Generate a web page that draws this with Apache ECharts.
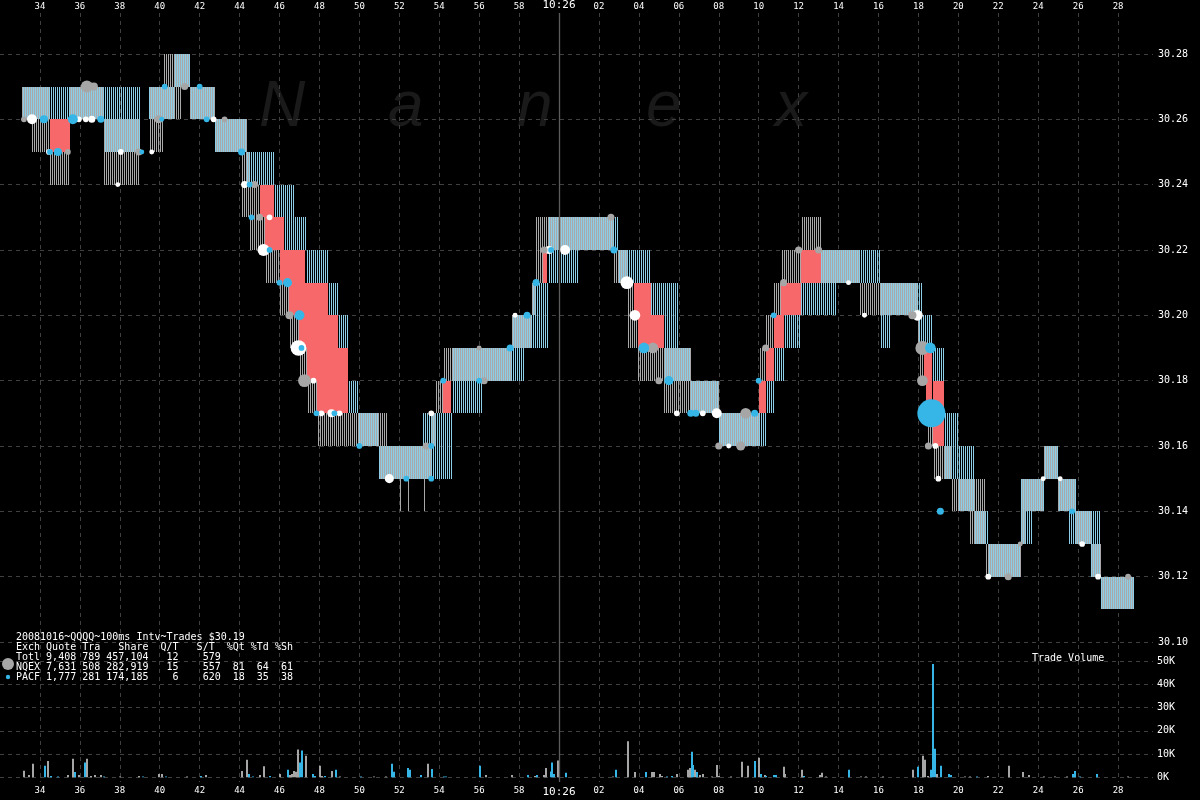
<!DOCTYPE html>
<html><head><meta charset="utf-8">
<script src="https://cdn.jsdelivr.net/npm/echarts@6/dist/echarts.min.js"></script>
<style>html,body{margin:0;background:#000;}#c{width:1200px;height:800px;}</style>
</head><body><div id="c"></div>
<script>
// Time values are seconds after 10:25:00
// Quote segments per exchange: [tStart, tEnd, bid, ask]
const nqexQuotes = [
[33.1,33.6,30.26,30.27],[33.6,34.5,30.25,30.27],[34.5,35.5,30.24,30.25],[35.5,37.2,30.26,30.27],
[37.2,39.0,30.24,30.26],[39.45,40.2,30.25,30.27],[40.2,41.1,30.26,30.28],[41.1,41.5,30.27,30.28],
[41.5,42.75,30.26,30.27],[42.75,44.1,30.25,30.26],[44.1,44.35,30.23,30.26],[44.35,44.5,30.23,30.25],
[44.5,45.0,30.22,30.24],[45.0,45.25,30.22,30.23],[45.25,46.0,30.21,30.22],[46.0,46.5,30.20,30.21],
[46.5,47.0,30.19,30.20],[47.0,47.4,30.18,30.19],[47.4,47.9,30.17,30.18],[47.9,50.95,30.16,30.17],
[50.95,51.4,30.15,30.17],[51.4,53.6,30.15,30.16],[52.0,52.05,30.14,30.16],[52.4,52.45,30.14,30.16],
[52.75,52.8,30.14,30.16],[53.2,53.25,30.14,30.16],[53.6,53.8,30.16,30.17],[53.8,54.2,30.17,30.18],
[54.2,57.6,30.18,30.19],[57.6,58.6,30.19,30.20],[58.6,58.75,30.20,30.21],[58.75,59.2,30.21,30.23],
[59.2,62.7,30.22,30.23],[62.7,63.45,30.21,30.22],[63.45,63.75,30.19,30.21],[63.75,63.95,30.19,30.20],
[63.95,65.25,30.18,30.19],[65.25,66.6,30.17,30.19],[66.6,68.0,30.17,30.18],[68.0,70.0,30.16,30.17],
[69.1,69.15,30.15,30.17],[70.0,70.35,30.18,30.19],[70.35,70.75,30.19,30.20],[70.75,71.1,30.20,30.21],
[71.1,72.1,30.21,30.22],[72.1,73.1,30.22,30.23],[73.1,75.0,30.21,30.22],[75.0,77.9,30.20,30.21],
[75.1,75.15,30.19,30.21],[75.4,75.45,30.19,30.21],[77.9,78.0,30.19,30.20],
[78.0,78.3,30.18,30.19],[78.3,78.4,30.17,30.18],[78.4,78.75,30.16,30.17],[78.75,79.6,30.15,30.16],
[79.6,80.5,30.14,30.15],[80.5,81.3,30.13,30.15],[81.3,83.1,30.12,30.13],[83.1,83.35,30.13,30.15],
[83.35,84.25,30.14,30.15],[84.25,84.95,30.15,30.16],[84.95,85.85,30.14,30.15],[85.85,86.6,30.13,30.14],
[86.6,87.1,30.12,30.13],[87.1,88.75,30.11,30.12]
];
const pacfQuotes = [
[33.1,37.2,30.26,30.27],[37.2,39.0,30.25,30.27],[39.45,40.7,30.26,30.27],[40.7,41.5,30.27,30.28],
[41.5,42.75,30.26,30.27],[42.75,44.35,30.25,30.26],[44.35,45.7,30.24,30.25],[45.7,46.2,30.23,30.24],
[46.2,46.75,30.22,30.24],[46.75,47.3,30.22,30.23],[47.3,48.45,30.21,30.22],[48.45,48.95,30.20,30.21],
[48.95,49.45,30.19,30.20],[49.45,49.95,30.17,30.18],[49.95,50.95,30.16,30.17],[50.95,53.1,30.15,30.16],
[53.1,54.6,30.15,30.17],[54.6,56.1,30.17,30.19],[56.1,57.6,30.18,30.19],[57.6,58.2,30.18,30.20],
[58.2,58.6,30.19,30.20],[58.6,59.4,30.19,30.21],[59.4,60.95,30.21,30.23],[60.95,63.0,30.22,30.23],
[63.0,64.6,30.21,30.22],[64.6,65.25,30.20,30.21],[65.25,66.0,30.18,30.21],[66.0,66.6,30.18,30.19],
[66.6,67.95,30.17,30.18],[67.95,70.35,30.16,30.17],[70.35,70.75,30.17,30.18],[70.75,71.25,30.18,30.19],
[71.25,72.1,30.19,30.20],[72.1,73.1,30.20,30.21],[73.1,73.9,30.20,30.22],[73.9,76.1,30.21,30.22],
[76.1,76.6,30.19,30.21],[76.6,77.95,30.20,30.21],
[77.95,78.2,30.19,30.21],[78.2,78.7,30.19,30.20],[78.7,79.3,30.18,30.19],[79.3,80.0,30.15,30.17],
[80.0,80.8,30.14,30.16],[80.8,81.5,30.13,30.14],[81.5,83.1,30.12,30.13],[83.1,83.7,30.13,30.15],
[83.7,84.25,30.14,30.15],[84.25,84.95,30.15,30.16],[84.95,85.5,30.14,30.15],[85.5,85.85,30.13,30.15],
[85.85,86.6,30.13,30.14],[86.6,87.1,30.12,30.14],[87.1,88.75,30.11,30.12]
];
// Trades: [time, price, shares]
const nqexTrades = [
[33.2,30.26,2000],[35.4,30.25,2000],[36.35,30.27,8800],[36.7,30.27,4000],[38.95,30.25,3000],[39.95,30.26,4000],
[41.25,30.27,3000],[43.25,30.26,2000],[44.75,30.24,3000],[45.0,30.23,3000],[46.5,30.20,4000],[47.25,30.18,10000],
[53.35,30.16,3000],[56.0,30.19,1500],[56.25,30.18,3000],[59.25,30.22,3000],[62.6,30.23,3000],[64.7,30.19,7000],
[65.0,30.18,3000],[68.0,30.16,3000],[69.1,30.16,5000],[69.35,30.17,7000],[70.35,30.19,3000],[71.25,30.21,3000],
[72.0,30.22,3000],[73.0,30.22,3000],[77.7,30.20,4000],[78.2,30.19,12000],[78.2,30.18,7000],[78.5,30.16,3000],
[82.5,30.12,3000],[83.1,30.13,1500],[88.5,30.12,2000]
];
const pacfTrades = [
[34.2,30.26,4000],[34.5,30.25,2000],[34.9,30.25,4000],[35.65,30.26,6000],[37.05,30.26,3000],[39.1,30.25,1500],
[40.1,30.26,1500],[40.25,30.27,2000],[42.0,30.27,2000],[42.35,30.26,2000],[44.1,30.25,3000],[44.5,30.24,2000],
[44.6,30.23,2000],[45.5,30.22,2000],[46.0,30.21,2000],[46.4,30.21,5000],[47.0,30.20,6000],[47.1,30.19,2000],
[47.85,30.17,2000],[48.75,30.17,2000],[50.0,30.16,2000],[52.35,30.15,2000],[53.6,30.15,2000],[53.6,30.16,2000],
[54.2,30.18,2000],[56.0,30.18,2000],[57.55,30.19,3000],[58.4,30.20,3000],[58.85,30.21,3000],[59.6,30.22,2000],
[62.75,30.22,3000],[64.25,30.19,7000],[65.5,30.18,5000],[66.6,30.17,3000],[66.85,30.17,3000],[69.8,30.17,3000],
[70.0,30.18,2000],[70.75,30.20,2000],[78.6,30.19,7000],[78.65,30.17,48000],[79.1,30.14,3000],[85.7,30.14,2000]
];
const whiteTrades = [
[33.6,30.26,6000],[34.45,30.25,2000],[35.95,30.26,2000],[36.3,30.26,2000],[36.6,30.26,3000],[37.9,30.24,1500],
[38.05,30.25,2000],[39.6,30.25,1500],[42.7,30.26,2000],[44.25,30.24,3000],[45.2,30.22,9000],[45.5,30.23,2000],
[46.95,30.19,15000],[47.7,30.18,2000],[48.1,30.17,2000],[48.6,30.17,4000],[49.0,30.17,2000],[51.5,30.15,5000],
[53.6,30.17,2000],[57.8,30.20,1500],[59.5,30.22,4000],[60.3,30.22,6000],[63.4,30.21,10000],[63.8,30.20,7000],
[65.9,30.17,2000],[67.2,30.17,2000],[67.9,30.17,6000],[68.5,30.16,1500],[74.5,30.21,1500],[75.3,30.20,1500],
[77.95,30.20,7000],[78.85,30.16,2000],[79.0,30.15,2000],[81.5,30.12,2000],[84.25,30.15,1500],[85.1,30.15,1500],
[86.2,30.13,2000],[87.0,30.12,2000]
];
// Volume per 100ms interval: [time, shares]
const nqexVolume = [
[33.21,2800],[33.44,1000],[33.63,5800],[34.42,7000],[35.43,1000],[35.64,8000],[35.95,1000],[36.35,8000],[36.55,600],
[36.75,1000],[37.04,1000],[38.0,300],[38.95,600],[39.95,1400],[40.1,1400],[41.35,300],[42.34,1000],[44.1,2700],
[44.35,7500],[45.04,1000],[45.23,4800],[46.03,1400],[46.55,1000],[46.65,1400],[46.74,2700],[46.85,2400],[46.95,12000],
[47.35,9300],[48.04,5000],[48.15,600],[48.65,2700],[49.05,300],[50.75,300],[51.35,300],[53.44,5800],[56.35,1000],
[57.65,1000],[58.8,600],[59.25,1000],[59.37,4000],[59.94,7200],[60.02,600],[62.7,300],[63.44,15500],[63.82,2300],
[64.65,2300],[64.75,2300],[65.05,1400],[65.15,600],[65.92,1400],[66.45,3200],[66.55,4000],[66.8,3200],[67.05,1000],
[67.23,1400],[67.65,300],[67.93,5300],[68.03,600],[68.6,300],[69.14,6700],[69.45,5000],[70.02,8400],[70.33,1000],
[71.25,4500],[71.33,1400],[72.15,3200],[73.05,1000],[73.15,2000],[73.35,300],[75.1,300],[75.4,300],[76.25,300],
[77.75,3200],[78.21,9300],[78.33,7500],[78.5,600],[78.94,1400],[80.35,300],[80.6,300],[81.5,600],[82.54,5000],
[83.25,2300],[83.53,1000],[84.3,300],[84.85,300],[85.45,300],[88.5,300]
];
const pacfVolume = [
[34.25,5000],[34.55,600],[34.93,300],[35.74,2300],[36.24,6400],[37.23,300],[39.14,300],[40.33,300],[42.05,600],
[44.45,1400],[44.65,300],[45.5,600],[46.4,3200],[47.05,6400],[47.14,11500],[47.7,1400],[47.8,600],[48.27,600],
[48.85,3200],[50.1,300],[51.64,5800],[51.73,2400],[52.42,4000],[52.54,3200],[53.1,1000],[53.65,3600],[54.25,300],
[54.35,300],[56.02,5000],[58.45,1000],[58.89,1000],[59.58,2500],[59.65,6400],[59.75,1400],[60.35,2000],[62.83,3200],
[64.34,2300],[65.4,300],[65.64,600],[66.64,11000],[66.7,5300],[66.92,2300],[69.81,7000],[70.14,1400],[70.35,600],
[70.75,1000],[70.85,1000],[72.25,600],[74.54,3200],[78.0,4500],[78.64,3200],[78.75,48700],[78.85,12300],[79.13,5000],
[79.55,1400],[79.65,1000],[80.95,300],[85.75,1400],[85.83,2700],[86.1,300],[86.94,1400]
];
const summaryLines = [
"20081016~QQQQ~100ms Intv~Trades $30.19",
"Exch Quote Tra   Share  Q/T   S/T  %Qt %Td %Sh",
"Totl 9,408 789 457,104   12    579",
"NQEX 7,631 508 282,919   15    557  81  64  61",
"PACF 1,777 281 174,185    6    620  18  35  38"
];
const watermark = ["N","a","n","e","x"];

// crossed market regions derived from the two exchanges' quotes
function crossed(a, b){
  const out=[];
  a.forEach(n=>b.forEach(p=>{
    const t0=Math.max(n[0],p[0]), t1=Math.min(n[1],p[1]);
    if(t1-t0<0.1) return;
    if(p[2]>n[3]+1e-9) out.push([t0,t1,n[3],p[2]]);
    else if(n[2]>p[3]+1e-9) out.push([t0,t1,p[3],n[2]]);
  }));
  return out;
}
const crossedQuotes = crossed(nqexQuotes, pacfQuotes);

// one 1px line per 100ms interval: NQEX on even pixel columns, PACF on odd ones
function stripeRender(color, parity){
  return function(params, api){
    const p0=api.coord([api.value(0), api.value(3)]);
    const p1=api.coord([api.value(1), api.value(2)]);
    const y0=Math.round(p0[1]), y1=Math.round(p1[1]);
    const children=[];
    let x=Math.ceil(p0[0]);
    if ((((x%2)+2)%2)!==parity) x++;
    for(; x<p1[0]; x+=2){
      children.push({type:'rect', shape:{x:x, y:y0, width:1, height:y1-y0}, style:{fill:color}});
    }
    return {type:'group', children:children};
  };
}
function rectRender(fill){
  return function(params, api){
    const p0=api.coord([api.value(0), api.value(3)]);
    const p1=api.coord([api.value(1), api.value(2)]);
    return {type:'rect', shape:{x:Math.round(p0[0]), y:Math.round(p0[1]), width:Math.round(p1[0])-Math.round(p0[0]), height:Math.round(p1[1])-Math.round(p0[1])}, style:{fill:fill}};
  };
}
function volRender(color){
  return function(params, api){
    const top=api.coord([api.value(0), api.value(1)]);
    const base=api.coord([api.value(0), 0]);
    return {type:'rect', shape:{x:Math.round(top[0])-1, y:top[1], width:2, height:base[1]-top[1]}, style:{fill:color}};
  };
}
const dotSize = v => Math.max(4, 0.128*Math.sqrt(v[2]));
const mono = '"DejaVu Sans Mono", monospace';
const gridLine = {show:true, lineStyle:{color:'#404040', type:[4,4], width:1}};
const T0 = 32, T1 = 89.75;
function timeLabel(v){
  if (Math.abs(v-60)<1e-6) return '{big|10:26}';
  const s = Math.round(v)%60; return (s<10?'0':'')+s;
}

const chart = echarts.init(document.getElementById('c'), null, {renderer:'canvas'});
const graphics = [];
watermark.forEach((ch,i)=>{
  graphics.push({type:'text', x:259+i*129, y:76, z:0, silent:true,
    style:{text:ch, font:'italic 64px "Liberation Sans"', fill:'#1a1a1a', textBaseline:'alphabetic'}});
});
summaryLines.forEach((ln,i)=>{
  graphics.push({type:'text', x:16, y:632+i*10, z:50,
    style:{text:ln, font:'10px '+mono, fill:'#ffffff', textBaseline:'top'}});
});
graphics.push({type:'circle', shape:{cx:8, cy:664, r:6}, style:{fill:'#a6a6a6'}, z:50});
graphics.push({type:'circle', shape:{cx:8, cy:677, r:2.2}, style:{fill:'#35b6e6'}, z:50});
graphics.push({type:'text', x:1032, y:653, z:50, style:{text:'Trade Volume', font:'10px '+mono, fill:'#ffffff', textBaseline:'top'}});

chart.setOption({
  backgroundColor:'#000',
  animation:false,
  graphic: graphics,
  grid:[
    {left:-2, width:(T1-T0)*20, top:11, height:771},
    {left:-2, width:(T1-T0)*20, top:21.27, height:620.73},
    {left:-2, width:(T1-T0)*20, top:661, height:116.3}
  ],
  xAxis:[
    {gridIndex:0, type:'value', position:'top', min:T0, max:T1, interval:2,
     axisLine:{show:false}, axisTick:{show:false},
     axisLabel:{show:true, margin:2, color:'#fff', fontSize:9, fontFamily:mono, showMinLabel:false, showMaxLabel:false,
       formatter:timeLabel, rich:{big:{fontSize:11, fontFamily:mono, color:'#fff'}}},
     splitLine:Object.assign({showMinLine:false, showMaxLine:false}, gridLine)},
    {gridIndex:1, type:'value', min:T0, max:T1, show:false},
    {gridIndex:2, type:'value', position:'bottom', min:T0, max:T1, interval:2,
     axisLine:{show:false}, axisTick:{show:false}, splitLine:{show:false},
     axisLabel:{show:true, margin:9, color:'#fff', fontSize:9, fontFamily:mono, showMinLabel:false, showMaxLabel:false,
       formatter:timeLabel, rich:{big:{fontSize:11, fontFamily:mono, color:'#fff'}}}}
  ],
  yAxis:[
    {gridIndex:0, type:'value', min:0, max:1, show:false},
    {gridIndex:1, type:'value', position:'right', min:30.10, max:30.29, interval:0.02,
     axisLine:{show:false}, axisTick:{show:false},
     axisLabel:{margin:5, color:'#fff', fontSize:10, fontFamily:mono, showMaxLabel:false, formatter:v=>v.toFixed(2)},
     splitLine:Object.assign({showMaxLine:false}, gridLine)},
    {gridIndex:2, type:'value', position:'right', min:0, max:50000, interval:10000,
     axisLine:{show:false}, axisTick:{show:false},
     axisLabel:{margin:4, color:'#fff', fontSize:10, fontFamily:mono, formatter:v=>Math.round(v/1000)+'K'},
     splitLine:gridLine}
  ],
  series:[
    {type:'line', xAxisIndex:0, yAxisIndex:0, data:[], silent:true,
     markLine:{silent:true, symbol:'none', label:{show:false}, lineStyle:{color:'#5c5c5c', type:'solid', width:1.3},
       data:[{xAxis:60}]}},
    {type:'custom', name:'NQEX quote', xAxisIndex:1, yAxisIndex:1, renderItem:stripeRender('#a9a9a9',0),
     encode:{x:[0,1], y:[2,3]}, data:nqexQuotes, z:2, clip:true, silent:true},
    {type:'custom', name:'PACF quote', xAxisIndex:1, yAxisIndex:1, renderItem:stripeRender('#8ccde8',1),
     encode:{x:[0,1], y:[2,3]}, data:pacfQuotes, z:2, clip:true, silent:true},
    {type:'custom', name:'Crossed', xAxisIndex:1, yAxisIndex:1, renderItem:rectRender('#f6686a'),
     encode:{x:[0,1], y:[2,3]}, data:crossedQuotes, z:3, clip:true, silent:true},
    {type:'scatter', name:'Other', xAxisIndex:1, yAxisIndex:1, data:whiteTrades, symbolSize:dotSize,
     itemStyle:{color:'#ffffff', opacity:1}, z:4, silent:true},
    {type:'scatter', name:'NQEX', xAxisIndex:1, yAxisIndex:1, data:nqexTrades, symbolSize:dotSize,
     itemStyle:{color:'#a6a6a6', opacity:1}, z:5, silent:true},
    {type:'scatter', name:'PACF', xAxisIndex:1, yAxisIndex:1, data:pacfTrades, symbolSize:dotSize,
     itemStyle:{color:'#35b6e6', opacity:1}, z:6, silent:true},
    {type:'custom', name:'NQEX volume', xAxisIndex:2, yAxisIndex:2, renderItem:volRender('#a6a6a6'),
     encode:{x:0, y:1}, data:nqexVolume, z:3, silent:true},
    {type:'custom', name:'PACF volume', xAxisIndex:2, yAxisIndex:2, renderItem:volRender('#35b6e6'),
     encode:{x:0, y:1}, data:pacfVolume, z:3, silent:true}
  ]
});
</script></body></html>
